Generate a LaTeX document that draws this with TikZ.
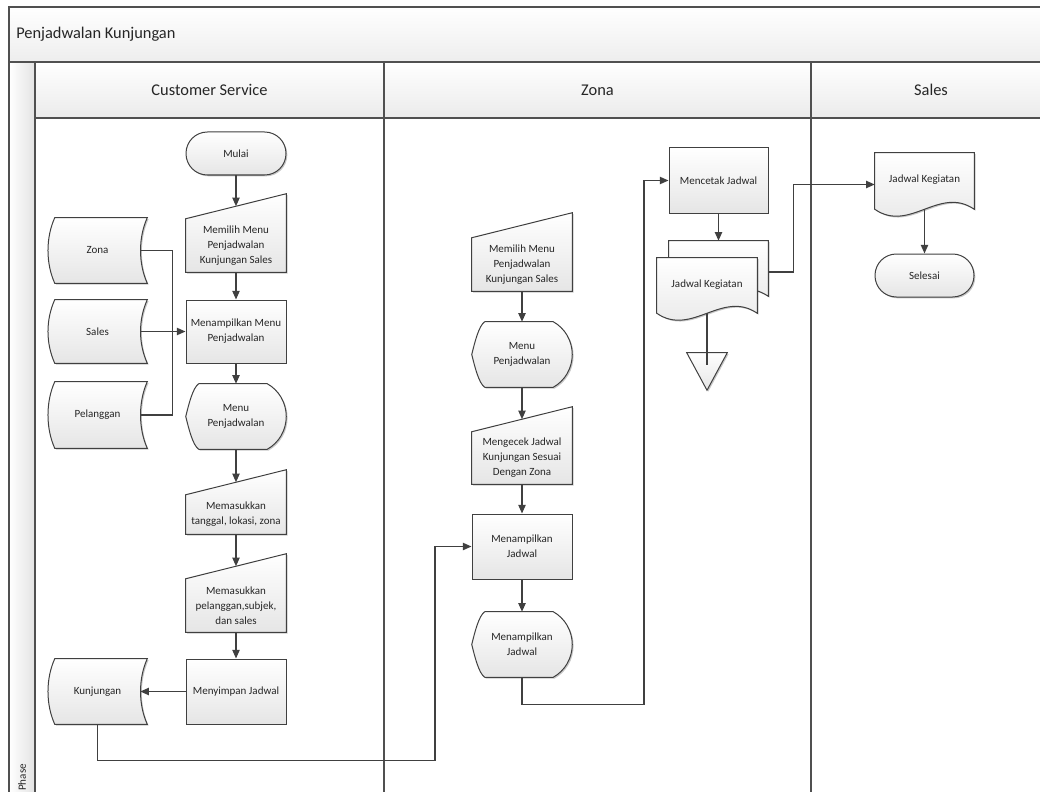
\documentclass[tikz,border=0pt]{standalone}
\usepackage{fontspec}
\setmainfont{Carlito}
\usetikzlibrary{arrows.meta,calc,shadows}
\pgfdeclarelayer{lanes}
\pgfdeclarelayer{shapes}
\pgfsetlayers{lanes,shapes,main}

\definecolor{ink}{HTML}{404040}
\definecolor{lanegray}{HTML}{505050}

\tikzset{
  shp/.style={draw=ink, line width=0.75pt, top color=white, bottom color=black!10,
    drop shadow={shadow xshift=1pt, shadow yshift=-1pt, opacity=0.22, fill=black}},
  lbl/.style={font=\fontsize{8.25}{11.25}\selectfont, align=center, inner sep=0pt, text=black!85},
  doclbl/.style={lbl, text height=6.5pt, text depth=9.5pt},
  box/.style 2 args={minimum width=#1*0.75pt, minimum height=#2*0.75pt},
  proc/.style={lbl, shp},
  term/.style={lbl, shp, rounded corners=16pt},
  conn/.style={draw=ink, line width=1pt},
  flow/.style={conn, -{Triangle[length=6.5pt,width=5.5pt]}},
  lane/.style={draw=lanegray, line width=0.9pt},
  head/.style={font=\fontsize{12.3}{14}\selectfont, inner sep=0pt, text=black!85},
}

% manual input: the node is the rectangular part below the slanted top
\newcommand\manualshape[1]{%
  \begin{pgfonlayer}{shapes}
    \path[shp] (#1.south west) -- (#1.north west) -- ($(#1.north east)+(0,-25)$)
      -- (#1.south east) -- cycle;
  \end{pgfonlayer}
  \coordinate (#1-in) at ($(#1.north)+(0,-12.5)$);}

% display: pointed left end, circular arc on the right
\newcommand\displayshape[1]{%
  \begin{pgfonlayer}{shapes}
    \path[shp] ($(#1.north west)+(13,0)$) -- ($(#1.north east)+(-19,0)$)
      .. controls ($(#1.east)+(-7.3,-26.3)$) and ($(#1.east)+(0,-13.6)$) .. (#1.east)
      .. controls ($(#1.east)+(0,13.6)$) and ($(#1.east)+(-7.3,26.3)$) .. ($(#1.south east)+(-19,0)$)
      -- ($(#1.south west)+(13,0)$)
      .. controls ($(#1.south west)+(7,-4)$) and ($(#1.west)+(3,12)$) .. (#1.west)
      .. controls ($(#1.west)+(3,-12)$) and ($(#1.north west)+(7,4)$) .. ($(#1.north west)+(13,0)$)
      -- cycle;
  \end{pgfonlayer}}

% stored data
\newcommand\storedshape[1]{%
  \begin{pgfonlayer}{shapes}
    \path[shp] ($(#1.north west)+(7,0)$) -- (#1.north east)
      .. controls ($(#1.north east)+(-9,20)$) and ($(#1.south east)+(-9,-20)$) .. (#1.south east)
      -- ($(#1.south west)+(7,0)$)
      .. controls ($(#1.south west)+(-2,-20)$) and ($(#1.north west)+(-2,20)$) .. ($(#1.north west)+(7,0)$)
      -- cycle;
  \end{pgfonlayer}
  \coordinate (#1-r) at ($(#1.east)+(-7,0)$);}

% document: the node reaches down to the lowest point of the wave
\newcommand\docshape[1]{%
  \begin{pgfonlayer}{shapes}
    \path[shp] (#1.north west) -- (#1.north east) -- ($(#1.south east)+(0,-7)$)
      .. controls ($(#1.south east)+(-35,-31)$) and ($(#1.south west)+(35,17)$) .. ($(#1.south west)+(0,-7)$)
      -- cycle;
  \end{pgfonlayer}
  \coordinate (#1-b) at ($(#1.south)+(0,-7)$);}

% off-page triangle
\newcommand\mergeshape[1]{%
  \begin{pgfonlayer}{shapes}
    \path[shp] (#1.north west) -- (#1.north east) -- (#1.south) -- cycle;
  \end{pgfonlayer}
  \coordinate (#1-c) at ($(#1.north)+(0,12.5)$);}

\begin{document}
\begin{tikzpicture}[x=0.75pt, y=-0.75pt]
\useasboundingbox (0,0) rectangle (1040,792);
\clip (0,0) rectangle (1040,792);

% ---------- pool and lanes ----------
\begin{pgfonlayer}{lanes}
  \fill[top color=white, bottom color=black!7] (9,7) rectangle (1052,62);
  \fill[top color=white, bottom color=black!8] (35,62) rectangle (1052,118);
  \fill[left color=white, right color=black!11] (9,62) rectangle (35,800);
  \draw[lane] (9,800) -- (9,7) -- (1052,7);
  \draw[lane] (9,62) -- (1052,62);
  \draw[lane] (35,118) -- (1052,118);
  \draw[lane] (35,62) -- (35,800);
  \draw[lane] (384,62) -- (384,800);
  \draw[lane] (811,62) -- (811,800);
\end{pgfonlayer}

\node[head, anchor=west] (title) at (16,34.5) {Penjadwalan Kunjungan};
\node[head] (hcs) at (209.5,90) {Customer Service};
\node[head] (hzona) at (597.5,90) {Zona};
\node[head] (hsales) at (931,90) {Sales};
\node[font=\fontsize{8.3}{9}\selectfont, rotate=90, anchor=west, inner sep=0pt, text=black!85]
  (phase) at (22,791) {Phase};

% ---------- Customer Service ----------
\node[term, box={100}{43}] (mulai) at (236,153.5) {Mulai};
\node[lbl, box={100}{53}] (mm1) at (236,245.5) {Memilih Menu\\Penjadwalan\\Kunjungan Sales};
\manualshape{mm1}
\node[proc, box={100}{63}] (mmenu) at (236,331.5) {Menampilkan Menu\\Penjadwalan};
\node[lbl, box={100}{65}] (d1) at (236,416.5) {Menu\\Penjadwalan};
\displayshape{d1}
\node[lbl, box={100}{39}] (mt) at (236,514.5) {Memasukkan\\tanggal, lokasi, zona};
\manualshape{mt}
\node[lbl, box={100}{53}] (mp) at (236,605.5) {Memasukkan\\pelanggan,subjek,\\dan sales};
\manualshape{mp}
\node[proc, box={100}{65}] (simpan) at (236,691.5) {Menyimpan Jadwal};

\node[lbl, box={99}{65}] (szona) at (97.5,250.5) {Zona};
\storedshape{szona}
\node[lbl, box={99}{63}] (ssales) at (97.5,331.5) {Sales};
\storedshape{ssales}
\node[lbl, box={99}{66}] (spel) at (97.5,415) {Pelanggan};
\storedshape{spel}
\node[lbl, box={99}{65}] (skun) at (97.5,691.5) {Kunjungan};
\storedshape{skun}

% ---------- Zona ----------
\node[lbl, box={100}{53}] (mm2) at (522,264.5) {Memilih Menu\\Penjadwalan\\Kunjungan Sales};
\manualshape{mm2}
\node[lbl, box={100}{65}] (d2) at (522,354.5) {Menu\\Penjadwalan};
\displayshape{d2}
\node[lbl, box={100}{52}] (mc) at (522,458) {Mengecek Jadwal\\Kunjungan Sesuai\\Dengan Zona};
\manualshape{mc}
\node[proc, box={100}{65}] (menjad) at (522,546.5) {Menampilkan\\Jadwal};
\node[lbl, box={100}{65}] (d3) at (522,644.5) {Menampilkan\\Jadwal};
\displayshape{d3}

\node[proc, box={99}{65}] (cetak) at (718.5,180.5) {Mencetak Jadwal};
\node[lbl, box={99}{62}] (jkb) at (718.5,272) {};
\docshape{jkb}
\node[doclbl, box={100}{62}] (jkf) at (707,289) {Jadwal Kegiatan};
\docshape{jkf}
\node[lbl, box={40}{37}] (tri) at (707,371.5) {};
\mergeshape{tri}

% ---------- Sales ----------
\node[doclbl, box={99}{63}] (jks) at (924.5,184.5) {Jadwal Kegiatan};
\docshape{jks}
\node[term, box={99}{43}] (selesai) at (924.5,275.5) {Selesai};

% ---------- connectors ----------
\draw[flow] (mulai.south) -- (mm1-in);
\draw[flow] (mm1.south) -- (mmenu.north);
\path (mmenu.west) ++(-13,0) coordinate (jn);
\draw[conn] (szona-r) -| (jn);
\draw[conn] (spel-r) -| (jn);
\draw[flow] (ssales-r) -- (mmenu.west);
\draw[flow] (mmenu.south) -- (d1.north);
\draw[flow] (d1.south) -- (mt-in);
\draw[flow] (mt.south) -- (mp-in);
\draw[flow] (mp.south) -- (simpan.north);
\draw[flow] (simpan.west) -- (skun-r);
\draw[flow] (skun.south) -- ++(0,36) -- ++(337.5,0) |- (menjad.west);

\draw[flow] (mm2.south) -- (d2.north);
\draw[flow] (d2.south) -- (mc-in);
\draw[flow] (mc.south) -- (menjad.north);
\draw[flow] (menjad.south) -- (d3.north);
\draw[flow] (d3.south) -- ++(0,27) -- ++(122,0) |- (cetak.west);
\draw[flow] (cetak.south) -- (jkb.north);
\draw[conn] (jkf-b) -- (tri-c);
\draw[flow] (jkb.east) -- ++(25,0) |- (jks.west);
\draw[flow] (jks-b) -- (selesai.north);
\end{tikzpicture}
\end{document}
